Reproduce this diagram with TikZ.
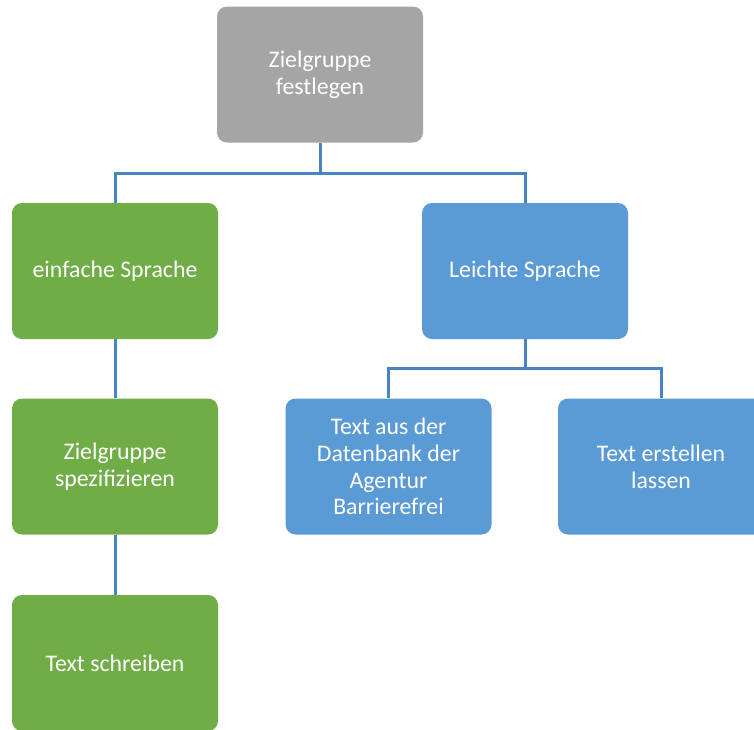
\documentclass[tikz,border=0pt]{standalone}
\usepackage{fontspec}
\setmainfont{Carlito}
\definecolor{greybox}{HTML}{A5A5A5}
\definecolor{greenbox}{HTML}{70AD47}
\definecolor{bluebox}{HTML}{5B9BD5}
\definecolor{linkcol}{HTML}{4A84BE}
\begin{document}
\begin{tikzpicture}[x=1pt,y=1pt,
  box/.style={rounded corners=10pt, minimum width=206pt, minimum height=136pt,
    inner sep=0pt, text=white, align=center,
    font=\fontsize{23.8}{26.7}\selectfont},
  grey/.style={box, fill=greybox},
  green/.style={box, fill=greenbox},
  blue/.style={box, fill=bluebox},
  link/.style={draw=linkcol, line width=3pt}]
\clip (0,0) rectangle (754,-729);
\fill[white] (0,0) rectangle (754,-729);
\node[grey]  (top) at (320,-74.5) {Zielgruppe\\festlegen};
\node[green] (es)  at (115,-271) {einfache Sprache};
\node[blue]  (ls)  at (525,-271) {Leichte Sprache};
\node[green] (zs)  at (115,-466.5) {Zielgruppe\\spezifizieren};
\node[green] (ts)  at (115,-663) {Text schreiben};
\node[blue]  (td)  at (388.5,-466.5) {Text aus der\\Datenbank der\\Agentur\\Barrierefrei};
\node[blue]  (te)  at (661,-466.5) {Text erstellen\\lassen};
\draw[link] (top.south) -- ++(0,-31) -| (es.north);
\draw[link] (top.south) -- ++(0,-31) -| (ls.north);
\draw[link] (ls.south) -- ++(0,-29) -| (td.north);
\draw[link] (ls.south) -- ++(0,-29) -| (te.north);
\draw[link] (es.south) -- (zs.north);
\draw[link] (zs.south) -- (ts.north);
\end{tikzpicture}
\end{document}
